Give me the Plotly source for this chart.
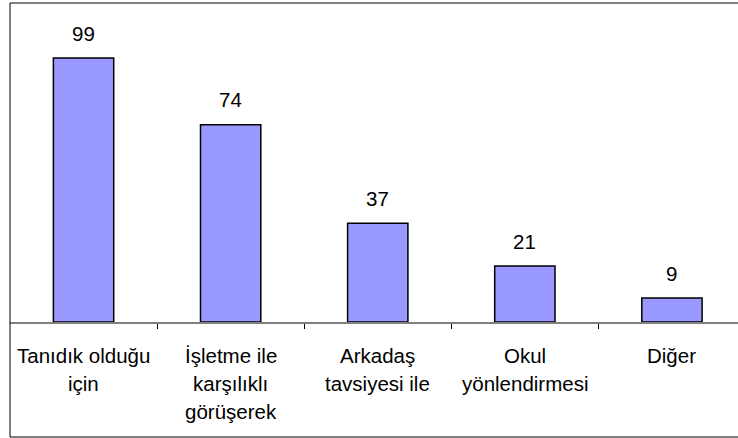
import plotly.graph_objects as go

categories = ["Tanıdık olduğu\niçin", "İşletme ile\nkarşılıklı\ngörüşerek", "Arkadaş\ntavsiyesi ile", "Okul\nyönlendirmesi", "Diğer"]
values = [99, 74, 37, 21, 9]

FONT = "Liberation Sans, Arial, sans-serif"

fig = go.Figure()
fig.add_trace(go.Bar(
    x=list(range(len(categories))), y=values, width=0.41,
    marker=dict(color="#9999FF", line=dict(color="black", width=1.5)),
    hoverinfo="skip",
))

annotations = []
for i, v in enumerate(values):
    annotations.append(dict(x=i, y=v, xref="x", yref="y", text=str(v), showarrow=False,
                            yanchor="middle", yshift=25, font=dict(family=FONT, size=20.5, color="black")))
for i, c in enumerate(categories):
    for j, line in enumerate(c.split("\n")):
        annotations.append(dict(x=i, y=0, xref="x", yref="y", text=line, showarrow=False,
                                yanchor="middle", yshift=-33 - 28 * j,
                                font=dict(family=FONT, size=20.5, color="black")))

fig.update_layout(
    width=738, height=438,
    margin=dict(l=10, r=0, t=2, b=116),
    paper_bgcolor="white", plot_bgcolor="white",
    showlegend=False,
    annotations=annotations,
    xaxis=dict(range=[-0.5, 4.449], showgrid=False, zeroline=False,
               tickmode="array", tickvals=[0.5, 1.5, 2.5, 3.5], ticktext=["", "", "", ""],
               ticks="outside", ticklen=5, tickcolor="black", tickwidth=1,
               showline=True, linecolor="#808080", linewidth=1.5),
    yaxis=dict(range=[0, 120], showgrid=False, zeroline=False, showticklabels=False,
               showline=False),
    shapes=[dict(type="rect", xref="paper", yref="paper", x0=0.0, x1=1.05,
                 y0=(322 - 437) / 320, y1=(322 - 3) / 320,
                 line=dict(color="black", width=1), layer="above")],
)

fig.write_html("out.html", config={"displayModeBar": False},
               post_script="document.body.style.margin='0';document.body.style.overflow='hidden';")
